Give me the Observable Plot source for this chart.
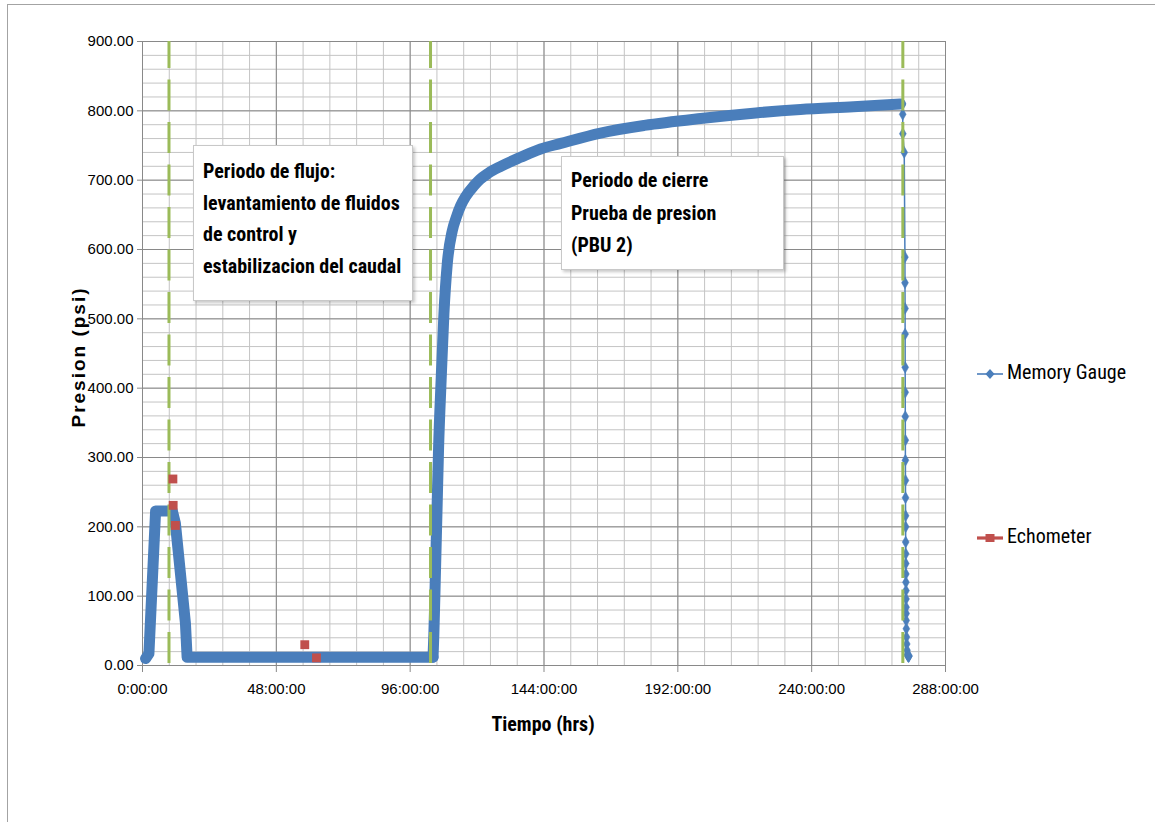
<!DOCTYPE html>
<html>
<head>
<meta charset="utf-8">
<script src="https://cdn.jsdelivr.net/npm/d3@7"></script>
<script src="https://cdn.jsdelivr.net/npm/@observablehq/plot@0.6"></script>
<style>
  body { margin: 0; background: #fff; overflow: hidden; }
  #wrap { position: relative; width: 1155px; height: 822px; overflow: hidden; background: #fff; }
  #wrap svg { position: absolute; left: 0; top: 0; overflow: visible; }
  .nf { font-family: "Liberation Sans Narrow", "Arial Narrow", "Roboto Condensed", sans-serif; }
  #frame { position: absolute; left: 7px; top: 4px; width: 1300px; height: 1000px;
           border-top: 1px solid #a3a3a3; border-left: 1px solid #a3a3a3; }
  .note { position: absolute; background: #fff; border: 1px solid #c8c8c8; box-sizing: border-box;
          box-shadow: 2px 2px 3px rgba(0,0,0,0.22); font-weight: bold; font-size: 20px; color: #000; white-space: nowrap; }
  .leg { position: absolute; font-size: 20px; color: #000; white-space: nowrap; line-height: 24px; }
  .leg svg { position: static !important; vertical-align: middle; margin-right: 3px; }
  #ytitle { position: absolute; left: -21px; top: 346px; width: 200px; height: 22px; line-height: 22px; text-align: center;
            transform: rotate(-90deg); font-family: "Liberation Sans", Arial, sans-serif; font-weight: bold; font-size: 19px; letter-spacing: 2px; }
  #xtitle { position: absolute; left: 443px; top: 712px; width: 200px; text-align: center; font-weight: bold; font-size: 20px; }
</style>
</head>
<body>
<div id="wrap">
  <div id="frame"></div>
</div>
<script>
// ---- Data ----
// Memory Gauge, flow period (hours, psi)
const flowHours = [1.1, 2.3, 4.7, 5.6, 10.7, 11.8, 15.4, 16.0, 40, 70, 104.2];
const flowPsi   = [10, 17, 223, 223, 223, 205, 61, 12, 12, 12, 12];
// Memory Gauge, build-up period (hours, psi)
const buildHours = [104.2, 104.5, 105.0, 105.6, 106.2, 107.1, 108.1, 109.3, 111.1, 112.5, 114.1, 116, 118.9, 121, 124, 128.5, 135.6, 142.8, 150, 164.3, 180, 200.2, 220, 236, 255, 271.8];
const buildPsi   = [12, 45, 123, 219, 315, 411, 507, 579, 627, 646, 663, 677, 692, 701, 710, 720, 733, 745, 753, 768, 779, 789, 797, 802, 806, 810];
// Memory Gauge, final drawdown (sparse points shown as diamonds)
const tailHours = [272.6, 272.65, 272.7, 273.2, 273.45, 273.47, 273.5, 273.52, 273.54, 273.56, 273.58, 273.6, 273.62, 273.64, 273.66, 273.68, 273.7, 273.72, 273.74, 273.76, 273.78, 273.8, 273.82, 273.84, 273.86, 273.88, 273.9, 273.95, 274.0, 274.1, 274.2, 274.3, 274.5, 274.7, 274.8, 274.9];
const tailPsi   = [810, 795, 767, 740, 589, 552, 515, 478, 430, 394, 359, 325, 296, 267, 242, 216, 200, 178, 161, 147, 132, 120, 108, 96, 84, 75, 65, 53, 41, 31, 22, 16, 14, 13, 13, 14];
// Echometer readings
const echoHours = [10.9, 11.0, 11.8, 58.2, 62.4];
const echoPsi   = [269, 231, 202, 30, 11];
// Period boundaries (green dashed lines)
const periodHours = [9.5, 103.3, 272.7];
// Axis ticks
const xTicks = [0, 48, 96, 144, 192, 240, 288];
const xTickLabels = ["0:00:00", "48:00:00", "96:00:00", "144:00:00", "192:00:00", "240:00:00", "288:00:00"];
const yTicks = [0, 100, 200, 300, 400, 500, 600, 700, 800, 900];
const yTickLabels = ["0.00", "100.00", "200.00", "300.00", "400.00", "500.00", "600.00", "700.00", "800.00", "900.00"];
const seriesNames = ["Memory Gauge", "Echometer"];
const noteFlow = ["Periodo de flujo:", "levantamiento de fluidos", "de control y", "estabilizacion del caudal"];
const noteShut = ["Periodo de cierre", "Prueba de presion", "(PBU 2)"];

const BLUE = "#4A7EBB", RED = "#C0504D", GREEN = "#9BBB59";

const flow = flowHours.map((t, i) => ({t, p: flowPsi[i]}));
const build = buildHours.map((t, i) => ({t, p: buildPsi[i]}));
const tail = tailHours.map((t, i) => ({t, p: tailPsi[i]}));
const echo = echoHours.map((t, i) => ({t, p: echoPsi[i]}));
const minorX = d3.range(0, 288.001, 9.6).map(v => +v.toFixed(2));
const minorY = d3.range(0, 900.001, 20);

const chart = Plot.plot({
  width: 1155,
  height: 822,
  marginLeft: 142,
  marginRight: 210,
  marginTop: 41,
  marginBottom: 157,
  style: {fontFamily: '"Liberation Sans Narrow", "Arial Narrow", sans-serif', fontSize: "15px", color: "#000", background: "transparent", overflow: "visible"},
  x: {domain: [0, 288]},
  y: {domain: [0, 900]},
  marks: [
    Plot.gridX(minorX, {stroke: "#c4c4c4", strokeOpacity: 1}),
    Plot.gridY(minorY, {stroke: "#c4c4c4", strokeOpacity: 1}),
    Plot.gridX(xTicks, {stroke: "#898989", strokeOpacity: 1}),
    Plot.gridY(yTicks, {stroke: "#898989", strokeOpacity: 1}),
    Plot.ruleX([0], {stroke: "#898989"}),
    Plot.ruleY([0], {stroke: "#898989"}),
    Plot.line(flow, {x: "t", y: "p", stroke: BLUE, strokeWidth: 11, strokeLinejoin: "round", strokeLinecap: "round"}),
    Plot.line(build, {x: "t", y: "p", stroke: BLUE, strokeWidth: 11, strokeLinejoin: "round", strokeLinecap: "round", curve: "monotone-x"}),
    Plot.line(tail, {x: "t", y: "p", stroke: BLUE, strokeWidth: 1.5}),
    Plot.dot(tail, {x: "t", y: "p", symbol: "diamond", r: 3.6, fill: BLUE, stroke: BLUE, strokeWidth: 0.5}),
    Plot.ruleX(periodHours, {stroke: GREEN, strokeWidth: 3, strokeDasharray: "31 11.5", strokeDashoffset: 4}),
    Plot.dot(echo, {x: "t", y: "p", symbol: "square", r: 5, fill: RED}),
    Plot.axisY({ticks: yTicks, tickFormat: (d, i) => yTickLabels[yTicks.indexOf(d)], tickSize: 5, tickPadding: 4, stroke: "#898989", label: null}),
    Plot.axisX({ticks: xTicks, tickFormat: d => xTickLabels[xTicks.indexOf(d)], tickSize: 7, tickPadding: 11, stroke: "#898989", label: null})
  ]
});

const wrap = document.getElementById("wrap");
wrap.insertBefore(chart, wrap.firstChild);

function addNote(lines, left, top, width, height, padTop, lh) {
  const d = document.createElement("div");
  d.className = "note nf";
  Object.assign(d.style, {left: left + "px", top: top + "px", width: width + "px", height: height + "px",
    paddingLeft: "9px", paddingTop: padTop + "px", lineHeight: lh + "px"});
  d.innerHTML = lines.map(s => `<div>${s}</div>`).join("");
  wrap.appendChild(d);
}
addNote(noteFlow, 193, 145, 220, 156, 10, 31.7);
addNote(noteShut, 561, 156, 223, 114, 7, 32.5);

function addLegend(name, top, kind) {
  const d = document.createElement("div");
  d.className = "leg nf";
  d.style.left = "977px";
  d.style.top = (top - 12) + "px";
  const sym = kind === "diamond"
    ? `<line x1="0" y1="6" x2="26" y2="6" stroke="${BLUE}" stroke-width="1.6"/><path d="M13,1 L17.5,6 L13,11 L8.5,6 Z" fill="${BLUE}"/>`
    : `<line x1="0" y1="6" x2="26" y2="6" stroke="${RED}" stroke-width="3.2"/><rect x="8.5" y="2" width="9" height="8" fill="${RED}"/>`;
  d.innerHTML = `<svg width="27" height="12" style="display:inline-block;vertical-align:middle">${sym}</svg><span>${name}</span>`;
  d.querySelector("svg").style.marginRight = "3px";
  wrap.appendChild(d);
}
addLegend(seriesNames[0], 372, "diamond");
addLegend(seriesNames[1], 536, "square");

const yt = document.createElement("div");
yt.id = "ytitle"; yt.textContent = "Presion (psi)";
wrap.appendChild(yt);
const xt = document.createElement("div");
xt.id = "xtitle"; xt.className = "nf"; xt.textContent = "Tiempo (hrs)";
wrap.appendChild(xt);
</script>
</body>
</html>
